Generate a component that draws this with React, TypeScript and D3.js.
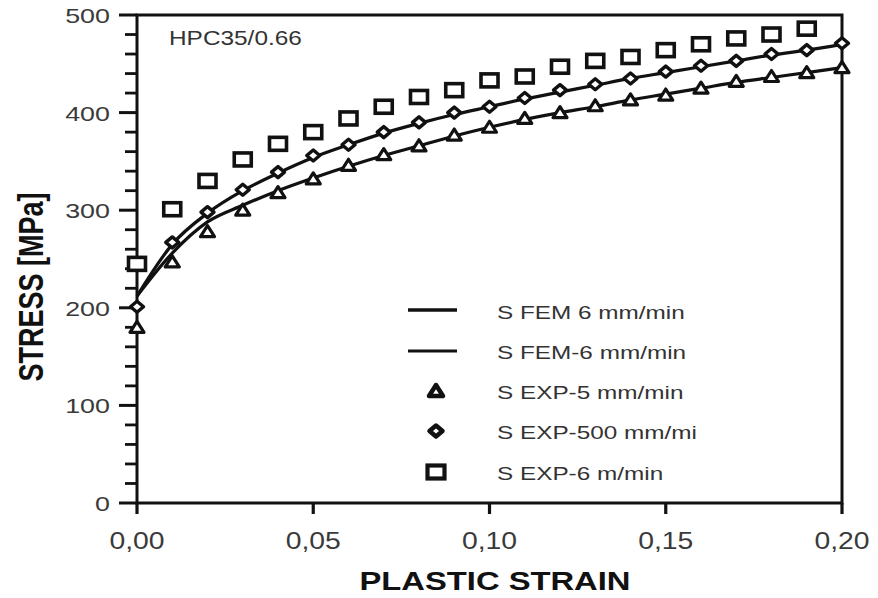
import React from 'react';
import * as d3 from 'd3';

// plastic strain sample points
const strain = [0, 0.01, 0.02, 0.03, 0.04, 0.05, 0.06, 0.07, 0.08, 0.09, 0.1,
  0.11, 0.12, 0.13, 0.14, 0.15, 0.16, 0.17, 0.18, 0.19, 0.2];

// S FEM curves
const femUpper = [212, 265, 297, 320, 338, 354, 367, 379, 389, 398, 406, 414, 421, 428, 435, 441, 447, 453, 459, 464, 470];
const femLower = [212, 256, 288, 305, 320, 333, 345, 356, 366, 376, 385, 393, 400, 406, 413, 419, 425, 431, 436, 441, 446];

// experimental points
const expTriangle = [180, 247, 278, 300, 318, 332, 346, 357, 366, 377, 385, 394, 400, 407, 413, 418, 425, 432, 437, 441, 446];
const expDiamond = [201, 267, 298, 321, 339, 356, 367, 380, 390, 400, 406, 415, 423, 429, 435, 442, 448, 453, 460, 464, 471];
const expSquare = [245, 301, 330, 352, 368, 380, 394, 406, 416, 423, 433, 437, 447, 453, 457, 464, 470, 476, 480, 486];

const xTicks = [0, 0.05, 0.1, 0.15, 0.2];
const xTickLabels = ['0,00', '0,05', '0,10', '0,15', '0,20'];
const yTicks = [0, 100, 200, 300, 400, 500];

const legendLabels = ['S FEM 6 mm/min', 'S FEM-6 mm/min', 'S EXP-5 mm/min', 'S EXP-500 mm/mi', 'S EXP-6 m/min'];

const W = 878;
const H = 598;
const margin = { top: 15, right: 36, bottom: 95, left: 137 };
const FONT = 'Liberation Sans, Arial, Helvetica, sans-serif';

const x = d3.scaleLinear().domain([0, 0.2]).range([margin.left, W - margin.right]);
const y = d3.scaleLinear().domain([0, 500]).range([H - margin.bottom, margin.top]);

// the scan is stretched sideways, so the text is too
const SText = ({ tx, ty, size, sx = 1.28, anchor = 'start', weight = 'normal', fill = '#222', children }: any) => (
  <text
    transform={`translate(${tx},${ty}) scale(${sx},1)`}
    fontSize={size}
    fontFamily={FONT}
    fontWeight={weight}
    textAnchor={anchor}
    fill={fill}
  >
    {children}
  </text>
);

const Square = ({ cx, cy, sw = 3.6 }: any) => (
  <rect x={cx - 8.5} y={cy - 6.5} width={17} height={13} fill="white" stroke="#111" strokeWidth={sw} />
);
const Diamond = ({ cx, cy, sw = 3.4 }: any) => (
  <path d={`M${cx - 6.5},${cy} L${cx},${cy - 5.5} L${cx + 6.5},${cy} L${cx},${cy + 5.5} Z`}
    fill="white" stroke="#111" strokeWidth={sw} strokeLinejoin="round" />
);
const Triangle = ({ cx, cy, sw = 3.2 }: any) => (
  <path d={`M${cx - 7},${cy + 5} L${cx},${cy - 6} L${cx + 7},${cy + 5} Z`}
    fill="white" stroke="#111" strokeWidth={sw} strokeLinejoin="round" />
);

export default function App() {
  const line = d3.line<number>()
    .x((_, i) => x(strain[i]))
    .y(d => y(d))
    .curve(d3.curveMonotoneX);

  const minorY = d3.range(0, 501, 20).filter(v => v % 100 !== 0);
  const x0 = margin.left;
  const x1 = W - margin.right;
  const y0 = H - margin.bottom;
  const y1 = margin.top;

  const legX = 408;
  const legRows = [313, 353, 393, 433, 474];

  return (
    <svg width={W} height={H} style={{ position: 'absolute', left: 0, top: 0, background: 'white' }}>
      {/* frame */}
      <rect x={x0} y={y1} width={x1 - x0} height={y0 - y1} fill="none" stroke="#111" strokeWidth={3} />

      {/* y ticks */}
      {yTicks.map(v => (
        <g key={'yt' + v}>
          <line x1={x0 - 18} x2={x0} y1={y(v)} y2={y(v)} stroke="#111" strokeWidth={3} />
          <SText tx={x0 - 27} ty={y(v) + 8} size={21} anchor="end" fill="#3a3a3a">{v}</SText>
        </g>
      ))}
      {minorY.map(v => (
        <line key={'ym' + v} x1={x0 - 12} x2={x0 + 1} y1={y(v)} y2={y(v)} stroke="#111" strokeWidth={2.8} />
      ))}

      {/* x ticks */}
      {xTicks.map((v, i) => (
        <g key={'xt' + v}>
          <line x1={x(v)} x2={x(v)} y1={y0} y2={y0 + 11} stroke="#111" strokeWidth={3.2} />
          <SText tx={x(v)} ty={y0 + 46} size={24} sx={1.18} anchor="middle" fill="#3a3a3a">{xTickLabels[i]}</SText>
        </g>
      ))}

      {/* FEM curves */}
      <path d={line(femUpper) || ''} fill="none" stroke="#111" strokeWidth={3.2} />
      <path d={line(femLower) || ''} fill="none" stroke="#111" strokeWidth={3.2} />

      {/* experimental markers */}
      {expTriangle.map((v, i) => <Triangle key={'t' + i} cx={x(strain[i])} cy={y(v)} />)}
      {expDiamond.map((v, i) => <Diamond key={'d' + i} cx={x(strain[i])} cy={y(v)} />)}
      {expSquare.map((v, i) => <Square key={'s' + i} cx={x(strain[i])} cy={y(v)} />)}

      {/* annotation */}
      <SText tx={169} ty={45} size={20} sx={1.22} fill="#333">HPC35/0.66</SText>

      {/* legend */}
      <line x1={legX} x2={legX + 49} y1={legRows[0] - 3} y2={legRows[0] - 3} stroke="#111" strokeWidth={3.4} />
      <line x1={legX} x2={legX + 49} y1={legRows[1] - 2} y2={legRows[1] - 2} stroke="#111" strokeWidth={2.8} />
      <Triangle cx={436} cy={legRows[2] - 2} sw={4.5} />
      <Diamond cx={436} cy={legRows[3] - 2} sw={4.5} />
      <Square cx={436} cy={legRows[4] - 2} sw={4.2} />
      {legendLabels.map((t, i) => (
        <SText key={t} tx={497} ty={legRows[i] + 6} size={19} sx={1.28} fill="#333">{t}</SText>
      ))}

      {/* axis titles */}
      <SText tx={495} ty={590} size={25} sx={1.31} anchor="middle" weight="bold" fill="#111">PLASTIC STRAIN</SText>
      <text
        transform="translate(43,287) scale(1.3,1) rotate(-90)"
        fontSize={27}
        fontFamily={FONT}
        fontWeight="bold"
        textAnchor="middle"
        fill="#111"
      >
        STRESS [MPa]
      </text>
    </svg>
  );
}
